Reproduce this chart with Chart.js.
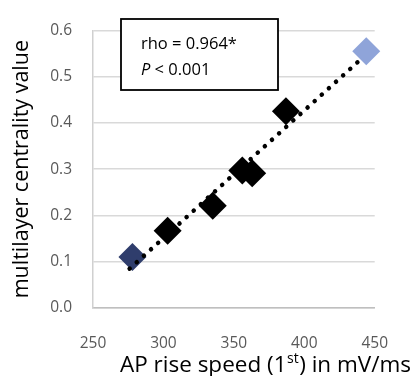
<!DOCTYPE html>
<html>
<head>
<meta charset="utf-8">
<script src="https://cdn.jsdelivr.net/npm/chart.js@4.4.1/dist/chart.umd.min.js"></script>
<style>
html,body{margin:0;padding:0;background:#fff;}
#wrap{width:414px;height:376px;}
</style>
</head>
<body>
<div id="wrap"><canvas id="c" width="414" height="376"></canvas></div>
<script>
// ---- data ----
const apRiseSpeed = [278, 303, 335, 356, 363, 387, 444];
const centrality  = [0.110, 0.167, 0.221, 0.297, 0.291, 0.425, 0.555];
const trendX = [276, 440];
const trendY = [0.085, 0.537];
const yTicks = [0.0, 0.1, 0.2, 0.3, 0.4, 0.5, 0.6];
const xTicks = [250, 300, 350, 400, 450];
const xTitleMain = "AP rise speed (1";
const xTitleSup = "st";
const xTitleEnd = ") in mV/ms";
const yTitle = "multilayer centrality value";
const statLine1 = "rho = 0.964*";
const statLine2a = "P";
const statLine2b = " < 0.001";

const FONT = "'Open Sans', Lato, sans-serif";
const navy = "#2f3d6c", light = "#8fa4d9", black = "#000000";
const pointColors = apRiseSpeed.map((_, i) => i === 0 ? navy : (i === apRiseSpeed.length - 1 ? light : black));

const overlay = {
  id: 'overlay',
  afterDraw(chart) {
    const ctx = chart.ctx;
    ctx.save();
    // stats box
    ctx.fillStyle = '#fff';
    ctx.fillRect(121, 19, 157, 71);
    ctx.strokeStyle = '#000';
    ctx.lineWidth = 1.8;
    ctx.strokeRect(121, 19, 157, 71);
    ctx.fillStyle = '#000';
    ctx.textBaseline = 'middle';
    ctx.textAlign = 'left';
    ctx.font = "16.5px " + FONT;
    ctx.fillText(statLine1, 141, 44);
    ctx.font = "italic 16.5px " + FONT;
    ctx.fillText(statLine2a, 141, 70);
    const pw = ctx.measureText(statLine2a).width;
    ctx.font = "16.5px " + FONT;
    ctx.fillText(statLine2b, 141 + pw, 70);
    // x axis title with superscript
    ctx.fillStyle = '#000';
    const big = "22.5px " + FONT, small = "14px " + FONT;
    ctx.font = big; const w1 = ctx.measureText(xTitleMain).width; const w3 = ctx.measureText(xTitleEnd).width;
    ctx.font = small; const w2 = ctx.measureText(xTitleSup).width;
    const total = w1 + w2 + w3;
    let x = 265 - total / 2;
    const y = 372;
    ctx.textBaseline = 'alphabetic';
    ctx.font = big; ctx.fillText(xTitleMain, x, y); x += w1;
    ctx.font = small; ctx.fillText(xTitleSup, x + 0.5, y - 9); x += w2 + 1;
    ctx.font = big; ctx.fillText(xTitleEnd, x, y);
    ctx.restore();
  }
};

new Chart(document.getElementById('c'), {
  data: {
    datasets: [
      {
        type: 'line',
        order: 0,
        data: trendX.map((v, i) => ({x: v, y: trendY[i]})),
        borderColor: '#000',
        borderWidth: 4.5,
        borderDash: [0.1, 9.5],
        borderCapStyle: 'round',
        pointRadius: 0,
        fill: false,
        tension: 0
      },
      {
        type: 'scatter',
        order: 1,
        data: apRiseSpeed.map((v, i) => ({x: v, y: centrality[i]})),
        pointStyle: 'rectRot',
        pointRadius: 14,
        pointHoverRadius: 14,
        pointBackgroundColor: pointColors,
        pointBorderWidth: 0,
        borderWidth: 0
      }
    ]
  },
  options: {
    responsive: false,
    animation: false,
    events: [],
    clip: false,
    layout: {padding: {top: 16, right: 16, bottom: 0, left: 0}},
    plugins: {legend: {display: false}, tooltip: {enabled: false}},
    scales: {
      x: {
        type: 'linear',
        min: 250, max: 450,
        afterBuildTicks: s => { s.ticks = xTicks.map(v => ({value: v})); },
        afterFit: s => { s.height = 68; },
        grid: {display: false, drawTicks: false},
        border: {display: true, color: '#bfbfbf', width: 1.5},
        ticks: {color: '#595959', font: {family: FONT, size: 15.5}, padding: 26, maxRotation: 0}
      },
      y: {
        type: 'linear',
        min: 0, max: 0.6,
        afterBuildTicks: s => { s.ticks = yTicks.map(v => ({value: v})); },
        afterFit: s => { s.width = 93; },
        grid: {color: '#d9d9d9', lineWidth: 1.5, drawTicks: false},
        border: {display: true, color: '#d0d0d0', width: 1.5},
        ticks: {color: '#595959', font: {family: FONT, size: 15.5}, padding: 21, callback: v => v.toFixed(1)},
        title: {display: true, text: yTitle, color: '#000', font: {family: FONT, size: 21.5}, padding: {top: 9, bottom: 0}}
      }
    }
  },
  plugins: [overlay]
});
</script>
</body>
</html>
